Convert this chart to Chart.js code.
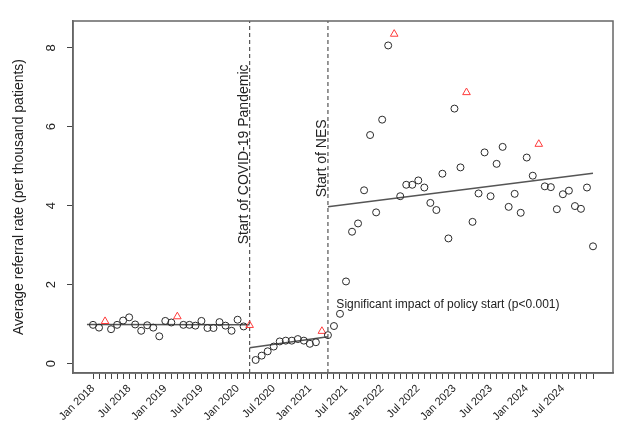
<!DOCTYPE html>
<html>
<head>
<meta charset="utf-8">
<script src="https://cdn.jsdelivr.net/npm/chart.js@4.4.1/dist/chart.umd.min.js"></script>
<style>
  body { margin: 0; background: #fff; }
  #wrap { width: 642px; height: 441px; }
</style>
</head>
<body>
<div id="wrap"><canvas id="chart" width="642" height="441"></canvas></div>
<script>
// Meses de la serie (ene 2018 - dic 2024)
const years = [2018, 2019, 2020, 2021, 2022, 2023, 2024];
const monthNames = ['Jan', 'Feb', 'Mar', 'Apr', 'May', 'Jun', 'Jul', 'Aug', 'Sep', 'Oct', 'Nov', 'Dec'];
const months = [];
years.forEach(y => monthNames.forEach(m => months.push(m + ' ' + y)));

// Tasa media de derivación (por mil pacientes), un valor por mes
const rates = [
  0.98, 0.91, 1.07, 0.87, 0.98, 1.09, 1.17, 0.99, 0.83, 0.97, 0.91, 0.69,
  1.08, 1.04, 1.19, 0.98, 0.98, 0.96, 1.08, 0.90, 0.90, 1.05, 0.96, 0.83,
  1.11, 0.94, 0.97, 0.09, 0.20, 0.31, 0.43, 0.56, 0.58, 0.58, 0.62, 0.58,
  0.50, 0.54, 0.82, 0.72, 0.95, 1.26, 2.08, 3.34, 3.55, 4.39, 5.79, 3.83,
  6.18, 8.06, 8.35, 4.24, 4.53, 4.53, 4.64, 4.46, 4.07, 3.89, 4.81, 3.17,
  6.46, 4.97, 6.87, 3.59, 4.31, 5.35, 4.24, 5.06, 5.49, 3.97, 4.30, 3.82,
  5.22, 4.76, 5.56, 4.49, 4.47, 3.91, 4.29, 4.38, 3.99, 3.92, 4.46, 2.97
];

// Eventos (índice de mes) y tramos de la regresión segmentada
const covidStart = 26; // Mar 2020
const nesStart = 39;   // Apr 2021
const fitX = [-1, covidStart, nesStart, 83];
const fitPre = [0.99, 0.98];
const fitCovid = [0.40, 0.68];
const fitNes = [3.97, 4.82];

// Etiquetas de los ejes
const xTickLabels = ['Jan 2018', 'Jul 2018', 'Jan 2019', 'Jul 2019', 'Jan 2020', 'Jul 2020', 'Jan 2021',
  'Jul 2021', 'Jan 2022', 'Jul 2022', 'Jan 2023', 'Jul 2023', 'Jan 2024', 'Jul 2024'];
const yTicks = [0, 2, 4, 6, 8];
const yRange = [-0.24, 8.68];
const xRange = [-3.32, 86.32];

const font = '"Liberation Sans", Arial, sans-serif';

// Puntos: triángulo rojo en marzo, círculo en el resto
const points = rates.map((v, i) => ({ x: i, y: v }));
const isMarch = i => months[i].startsWith('Mar');

// Textos y marco (dibujados con las escalas del gráfico)
const extras = {
  id: 'extras',
  afterDraw(chart) {
    const { ctx, chartArea: a, scales: { x, y } } = chart;
    ctx.save();
    ctx.strokeStyle = '#666';
    ctx.lineWidth = 1.5;
    ctx.strokeRect(a.left, a.top, a.right - a.left, a.bottom - a.top);

    ctx.fillStyle = '#222';
    // etiquetas del eje y, giradas como en R
    ctx.font = '13px ' + font;
    ctx.textAlign = 'center';
    ctx.textBaseline = 'alphabetic';
    yTicks.forEach(t => {
      ctx.save();
      ctx.translate(a.left - 18, y.getPixelForValue(t));
      ctx.rotate(-Math.PI / 2);
      ctx.fillText(String(t), 0, 0);
      ctx.restore();
    });

    // textos verticales junto a las líneas discontinuas
    ctx.font = '14px ' + font;
    [[covidStart, 'Start of COVID-19 Pandemic', 5.3], [nesStart, 'Start of NES', 5.2]].forEach(([m, txt, v]) => {
      ctx.save();
      ctx.translate(x.getPixelForValue(m) - 2, y.getPixelForValue(v));
      ctx.rotate(-Math.PI / 2);
      ctx.fillText(txt, 0, 0);
      ctx.restore();
    });

    ctx.font = '12px ' + font;
    ctx.textAlign = 'left';
    ctx.textBaseline = 'middle';
    ctx.fillText('Significant impact of policy start (p<0.001)', x.getPixelForValue(40.4), y.getPixelForValue(1.5));
    ctx.restore();
  }
};

const lineStyle = { showLine: true, pointRadius: 0, borderColor: '#555', borderWidth: 1.5, fill: false };

new Chart(document.getElementById('chart'), {
  type: 'scatter',
  data: {
    datasets: [
      {
        data: points,
        pointStyle: ctx => isMarch(ctx.dataIndex) ? 'triangle' : 'circle',
        pointRadius: ctx => isMarch(ctx.dataIndex) ? 4.4 : 3.5,
        borderColor: ctx => isMarch(ctx.dataIndex) ? '#ff3b3b' : '#2a2a2a',
        backgroundColor: 'rgba(0,0,0,0)',
        pointBorderWidth: 1
      },
      Object.assign({ data: [{ x: fitX[0], y: fitPre[0] }, { x: fitX[1], y: fitPre[1] }] }, lineStyle),
      Object.assign({ data: [{ x: fitX[1], y: fitCovid[0] }, { x: fitX[2], y: fitCovid[1] }] }, lineStyle),
      Object.assign({ data: [{ x: fitX[2], y: fitNes[0] }, { x: fitX[3], y: fitNes[1] }] }, lineStyle),
      Object.assign({ data: [{ x: covidStart, y: yRange[0] }, { x: covidStart, y: yRange[1] }] }, lineStyle, { borderWidth: 1.2, borderDash: [4, 3] }),
      Object.assign({ data: [{ x: nesStart, y: yRange[0] }, { x: nesStart, y: yRange[1] }] }, lineStyle, { borderWidth: 1.2, borderDash: [4, 3] })
    ]
  },
  options: {
    responsive: false,
    animation: false,
    events: [],
    layout: { padding: { top: 21, right: 29, left: 0, bottom: 0 } },
    plugins: { legend: { display: false }, tooltip: { enabled: false } },
    scales: {
      x: {
        type: 'linear',
        min: xRange[0],
        max: xRange[1],
        afterBuildTicks: s => { s.ticks = months.map((m, i) => ({ value: i })); },
        afterFit: s => { s.height = 68; },
        grid: { drawOnChartArea: false, drawTicks: true, tickLength: 6, color: '#444' },
        border: { display: true, color: '#666', width: 1.5 },
        ticks: {
          autoSkip: false,
          minRotation: 45,
          maxRotation: 45,
          padding: 3,
          color: '#222',
          font: { family: font, size: 11 },
          callback: v => (v % 6 === 0 ? xTickLabels[v / 6] : '')
        }
      },
      y: {
        min: yRange[0],
        max: yRange[1],
        afterBuildTicks: s => { s.ticks = yTicks.map(v => ({ value: v })); },
        afterFit: s => { s.width = 73; },
        grid: { drawOnChartArea: false, drawTicks: true, tickLength: 6, color: '#444' },
        border: { display: true, color: '#666', width: 1.5 },
        ticks: { display: false },
        title: {
          display: true,
          text: 'Average referral rate (per thousand patients)',
          color: '#222',
          font: { family: font, size: 14 },
          padding: { top: 11, bottom: 0 }
        }
      }
    }
  },
  plugins: [extras]
});
</script>
</body>
</html>
